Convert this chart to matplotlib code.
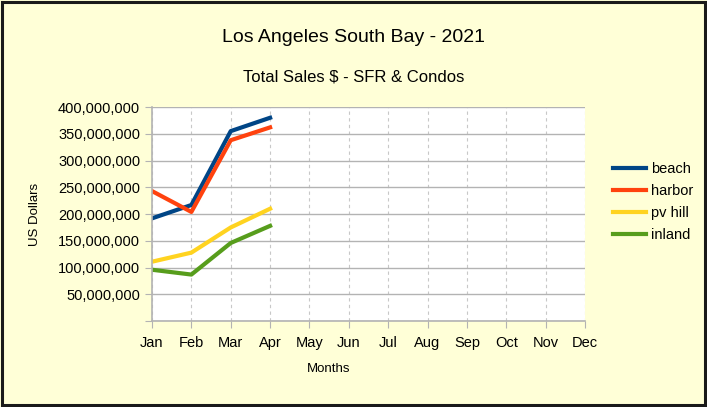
import matplotlib.pyplot as plt
from matplotlib.ticker import FuncFormatter

plt.rcParams['font.family'] = ['Liberation Sans', 'DejaVu Sans']

months = ['Jan', 'Feb', 'Mar', 'Apr', 'May', 'Jun', 'Jul', 'Aug', 'Sep', 'Oct', 'Nov', 'Dec']
beach = [192e6, 217e6, 355e6, 380e6]
harbor = [243e6, 204e6, 338e6, 362e6]
pv_hill = [111e6, 128e6, 175e6, 210e6]
inland = [96e6, 87e6, 146e6, 178e6]

series = [('beach', beach, '#004586'),
          ('harbor', harbor, '#ff420e'),
          ('pv hill', pv_hill, '#ffd320'),
          ('inland', inland, '#579d1c')]

bg = '#ffffd7'
fig = plt.figure(figsize=(7.07, 4.07), dpi=100, facecolor=bg)
fig.patches.append(plt.Rectangle((0.003, 0.004), 0.994, 0.991, transform=fig.transFigure,
                                 fill=False, edgecolor='#1a1a1a', linewidth=2.2))
ax = fig.add_axes([0.215, 0.211, 0.6125, 0.526])
ax.set_facecolor('white')

x = list(range(len(months)))
for name, vals, col in series:
    ax.plot(x[:len(vals)], vals, color=col, linewidth=3, label=name)

ax.set_xlim(0, 11)
ax.set_ylim(0, 400e6)
ax.set_xticks(x)
ax.set_xticklabels(months)
ax.set_yticks([i * 50e6 for i in range(9)])
ax.yaxis.set_major_formatter(FuncFormatter(lambda v, p: '' if v == 0 else f'{int(v):,}'))

ax.grid(axis='y', color='#b3b3b3', linewidth=1)
ax.grid(axis='x', color='#c8c8c8', linewidth=0.8, linestyle=(0, (3, 3)))
ax.set_axisbelow(True)
for s in ['top', 'right']:
    ax.spines[s].set_visible(False)
for s in ['left', 'bottom']:
    ax.spines[s].set_color('#b3b3b3')
    ax.spines[s].set_linewidth(1.2)
ax.tick_params(colors='#b3b3b3', labelcolor='black', labelsize=10.5, length=5)
ax.tick_params(axis='x', pad=6)

fig.text(0.5, 0.909, 'Los Angeles South Bay - 2021', ha='center', va='center', fontsize=14)
fig.text(0.5, 0.811, 'Total Sales $ - SFR & Condos', ha='center', va='center', fontsize=12)
fig.text(0.465, 0.093, 'Months', ha='center', va='center', fontsize=9.5)
fig.text(0.05, 0.474, 'US Dollars', ha='center', va='center', rotation=90, fontsize=9.5)

fig.legend(loc='center left', bbox_to_anchor=(0.848, 0.503), frameon=False, fontsize=10.5,
           handlelength=2.3, labelspacing=0.55, handletextpad=0.35)

fig.savefig('out.png', dpi=100, facecolor=bg)
